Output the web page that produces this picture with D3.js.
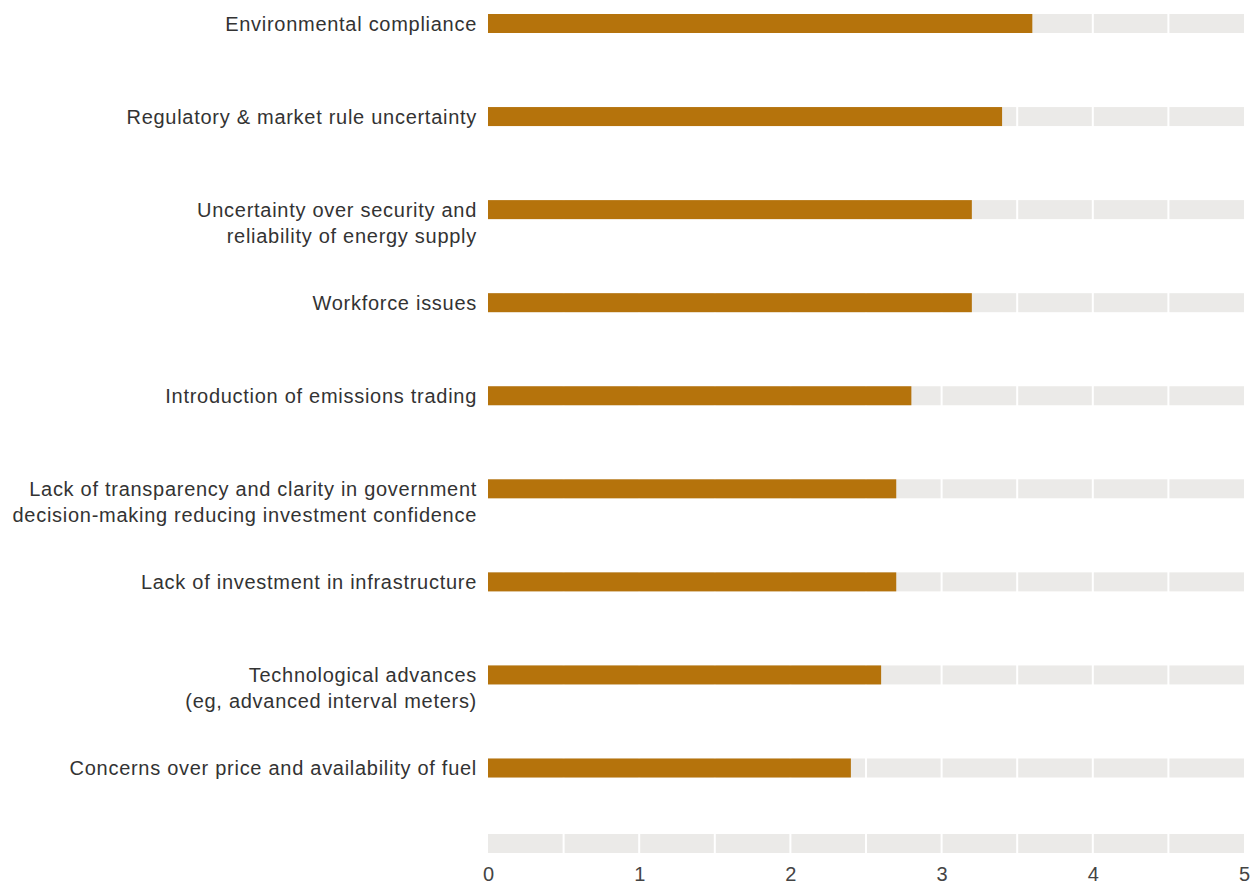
<!DOCTYPE html>
<html>
<head>
<meta charset="utf-8">
<script src="https://cdn.jsdelivr.net/npm/d3@7"></script>
<style>
  body { margin: 0; background: #fff; }
  svg text { font-family: "Helvetica Neue", Helvetica, "Liberation Sans", Arial, sans-serif; }
</style>
</head>
<body>
<div id="chart"></div>
<script>
// categories (label lines) and scores
const categories = [
    ["Environmental compliance"],
    ["Regulatory & market rule uncertainty"],
    ["Uncertainty over security and", "reliability of energy supply"],
    ["Workforce issues"],
    ["Introduction of emissions trading"],
    ["Lack of transparency and clarity in government", "decision-making reducing investment confidence"],
    ["Lack of investment in infrastructure"],
    ["Technological advances", "(eg, advanced interval meters)"],
    ["Concerns over price and availability of fuel"]
];
const scores = [3.6, 3.4, 3.2, 3.2, 2.8, 2.7, 2.7, 2.6, 2.4];
const tickValues = [0, 1, 2, 3, 4, 5];
const segmentEdges = [0, 0.5, 1, 1.5, 2, 2.5, 3, 3.5, 4, 4.5];

const width = 1253, height = 884;
const margin = {top: 14, right: 9, left: 488};
const barH = 19;

const svg = d3.select("#chart").append("svg")
    .attr("width", width)
    .attr("height", height);

const x = d3.scaleLinear()
    .domain([0, 5])
    .range([margin.left, width - margin.right]);

const keys = categories.map((d, i) => i);
const y = d3.scalePoint()
    .domain(keys)
    .range([23.5, 768]);

// background tracks split into half-unit segments
const tracks = svg.append("g");
keys.concat(["axis"]).forEach(k => {
    const cy = k === "axis" ? 843.5 : y(k);
    tracks.selectAll(null)
        .data(segmentEdges)
        .enter()
        .append("rect")
        .attr("x", d => x(d) + (d === 0 ? 0 : 1))
        .attr("y", cy - barH / 2)
        .attr("width", d => x(d + 0.5) - x(d) - (d === 0 ? 1 : 2) + (d === 4.5 ? 1 : 0))
        .attr("height", barH)
        .attr("fill", "#ebeae8");
});

// score bars
svg.selectAll(".bar")
    .data(scores)
    .enter()
    .append("rect")
    .attr("class", "bar")
    .attr("x", x(0))
    .attr("y", (d, i) => y(i) - barH / 2)
    .attr("width", d => x(d) - x(0))
    .attr("height", barH)
    .attr("fill", "#b5730c");

// category labels
const labels = svg.selectAll(".label")
    .data(categories)
    .enter()
    .append("text")
    .attr("class", "label")
    .attr("text-anchor", "end")
    .attr("fill", "#333")
    .style("font-size", "20px")
    .style("letter-spacing", "0.72px");

labels.selectAll("tspan")
    .data((d, i) => d.map((line, j) => ({line, j, i})))
    .enter()
    .append("tspan")
    .attr("x", margin.left - 11)
    .attr("y", d => y(d.i) + d.j * 26)
    .attr("dy", "0.37em")
    .text(d => d.line);

// x axis tick labels
svg.append("g")
    .attr("transform", "translate(0,881)")
    .call(d3.axisBottom(x).tickValues(tickValues).tickSize(0).tickPadding(0).tickFormat(d3.format("d")))
    .call(g => g.select(".domain").remove())
    .call(g => g.selectAll("text")
        .attr("dy", "0")
        .attr("fill", "#444")
        .style("font-size", "20px")
        .style("font-family", "\"Helvetica Neue\", Helvetica, \"Liberation Sans\", Arial, sans-serif"));
</script>
</body>
</html>
